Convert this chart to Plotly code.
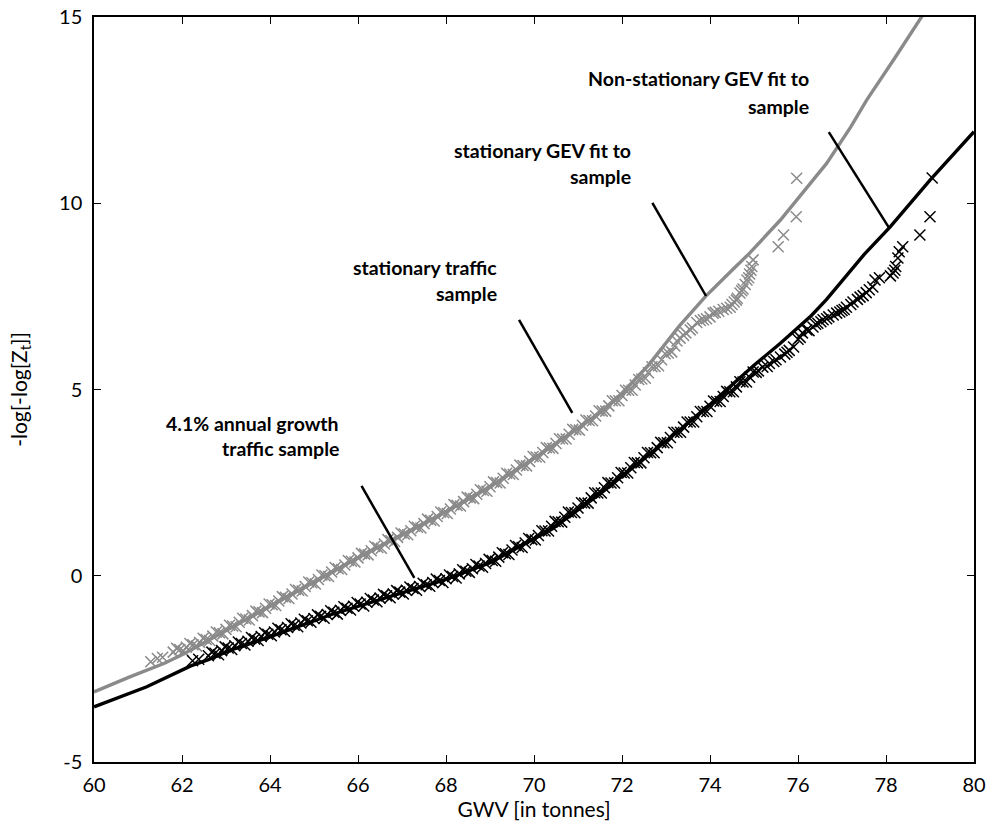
import plotly.graph_objects as go

# ---- stationary GEV fit (grey line) ----
gev_stat_x = [60.0, 60.8, 61.6, 62.0, 62.5, 63.1, 64.0, 64.6, 65.4, 66.1, 67.0, 68.0, 69.0, 70.0,
              71.0, 71.5, 72.0, 72.6, 73.3, 73.9, 74.5, 74.9, 75.6, 76.0, 76.65, 77.2, 77.56,
              78.2, 78.77, 79.0]
gev_stat_y = [-3.12, -2.72, -2.35, -2.12, -1.80, -1.40, -0.82, -0.43, 0.10, 0.55, 1.10, 1.72, 2.39, 3.15,
              3.96, 4.38, 4.90, 5.65, 6.70, 7.5, 8.2, 8.66, 9.55, 10.13, 11.07, 12.05, 12.77,
              13.9, 14.92, 15.35]

# ---- non-stationary GEV fit (black line) ----
gev_ns_x = [60.0, 61.2, 62.2, 62.6, 63.1, 63.9, 65.4, 66.9, 68.0, 69.0, 70.0, 70.4, 71.5, 72.5,
            73.3, 74.0, 74.5, 75.0, 75.6, 76.3, 76.65, 77.5, 78.1, 79.0, 80.0]
gev_ns_y = [-3.52, -2.98, -2.42, -2.25, -2.0, -1.68, -1.04, -0.50, -0.10, 0.35, 0.98, 1.25, 2.2, 3.15,
            3.9, 4.6, 5.12, 5.65, 6.24, 6.98, 7.42, 8.62, 9.37, 10.62, 11.92]

# ---- stationary traffic sample (grey crosses) ----
stat_x = [61.29, 61.44, 61.56,
          61.80, 61.95, 62.10, 62.25, 62.40, 62.55, 62.70, 62.85, 63.00, 63.15, 63.30, 63.45,
          63.60, 63.75, 63.90, 64.05, 64.20, 64.35, 64.50, 64.65, 64.80, 64.95, 65.10, 65.25,
          65.40, 65.55, 65.70, 65.85, 66.00, 66.15, 66.30, 66.45, 66.60, 66.75, 66.90, 67.05,
          67.20, 67.35, 67.50, 67.65, 67.80, 67.95, 68.10, 68.25, 68.40, 68.55, 68.70, 68.85,
          69.00, 69.15, 69.30, 69.45, 69.60, 69.75, 69.90, 70.05, 70.20, 70.35, 70.50, 70.65,
          70.80, 70.95, 71.10, 71.25, 71.40, 71.55, 71.70, 71.85, 72.00, 72.15, 72.30, 72.45,
          72.60, 72.75, 72.90, 73.05, 73.20,
          73.32, 73.45, 73.60, 73.70, 73.85, 74.00, 74.07, 74.20, 74.30, 74.46, 74.55, 74.62,
          74.68, 74.75, 74.84, 74.90, 74.95, 74.98, 75.55, 75.67, 75.96, 75.97]
stat_y = [-2.31, -2.22, -2.19,
          -2.05, -1.98, -1.92, -1.85, -1.79, -1.71, -1.62, -1.53, -1.44, -1.35, -1.25, -1.16,
          -1.07, -0.97, -0.87, -0.78, -0.68, -0.58, -0.49, -0.39, -0.29, -0.19, -0.10, 0.00,
          0.10, 0.19, 0.29, 0.39, 0.48, 0.58, 0.67, 0.76, 0.85, 0.94, 1.03, 1.12,
          1.21, 1.30, 1.40, 1.49, 1.59, 1.69, 1.79, 1.89, 1.99, 2.09, 2.19, 2.29,
          2.39, 2.50, 2.62, 2.73, 2.84, 2.96, 3.07, 3.19, 3.31, 3.43, 3.55, 3.67,
          3.80, 3.92, 4.04, 4.17, 4.29, 4.42, 4.56, 4.70, 4.84, 4.98, 5.12, 5.28,
          5.45, 5.62, 5.80, 5.98, 6.17,
          6.38, 6.52, 6.65, 6.80, 6.87, 6.95, 7.05, 7.10, 7.15, 7.21, 7.35, 7.45,
          7.59, 7.70, 7.94, 8.10, 8.30, 8.48, 8.83, 9.15, 9.64, 10.67]
# further stationary-sample points read between the ones above (dense band)
stat_x2 = [61.88, 62.03, 62.18, 62.33, 62.48, 62.63, 62.78, 62.93, 63.08, 63.23, 63.38, 63.53,
           63.68, 63.83, 63.98, 64.13, 64.28, 64.43, 64.58, 64.73, 64.88, 65.03, 65.18, 65.33,
           65.48, 65.63, 65.78, 65.93, 66.08, 66.23, 66.38, 66.53, 66.68, 66.83, 66.98, 67.13,
           67.28, 67.43, 67.58, 67.73, 67.88, 68.03, 68.18, 68.33, 68.48, 68.63, 68.78, 68.93,
           69.08, 69.23, 69.38, 69.53, 69.68, 69.83, 69.98, 70.13, 70.28, 70.43, 70.58, 70.73,
           70.88, 71.03, 71.18, 71.33, 71.48, 71.63, 71.78, 71.93, 72.08, 72.23, 72.38, 72.53,
           72.68, 72.83, 72.98, 73.13,
           73.25, 73.40, 73.55, 73.78, 73.92, 74.12, 74.38, 74.50, 74.60, 74.72, 74.80, 74.88, 74.93]
stat_y2 = [-1.95, -2.02, -1.82, -1.89, -1.68, -1.74, -1.51, -1.56, -1.33, -1.37, -1.14, -1.19,
           -0.95, -0.99, -0.76, -0.80, -0.56, -0.61, -0.37, -0.41, -0.17, -0.22, 0.02, -0.02,
           0.22, 0.17, 0.41, 0.37, 0.60, 0.56, 0.79, 0.74, 0.97, 0.92, 1.15, 1.10,
           1.33, 1.28, 1.52, 1.47, 1.71, 1.67, 1.91, 1.87, 2.11, 2.07, 2.31, 2.27,
           2.52, 2.49, 2.75, 2.72, 2.97, 2.95, 3.20, 3.18, 3.44, 3.42, 3.68, 3.67,
           3.93, 3.91, 4.18, 4.16, 4.43, 4.42, 4.70, 4.70, 4.98, 4.98, 5.27, 5.30,
           5.61, 5.64, 5.96, 6.01,
           6.30, 6.45, 6.60, 6.85, 6.90, 7.07, 7.18, 7.28, 7.40, 7.65, 7.82, 8.00, 8.20]

# ---- 4.1% annual growth traffic sample (black crosses) ----
grow_x = [62.24, 62.38,
          62.60, 62.75, 62.90, 63.05, 63.20, 63.35, 63.50, 63.65, 63.80, 63.95, 64.10, 64.25,
          64.40, 64.55, 64.70, 64.85, 65.00, 65.15, 65.30, 65.45, 65.60, 65.75, 65.90, 66.05,
          66.20, 66.35, 66.50, 66.65, 66.80, 66.95, 67.10, 67.25, 67.40, 67.55, 67.70, 67.85,
          68.00, 68.15, 68.30, 68.45, 68.60, 68.75, 68.90, 69.05, 69.20, 69.35, 69.50, 69.65,
          69.80, 69.95, 70.10, 70.25, 70.40, 70.55, 70.70, 70.85, 71.00, 71.15, 71.30, 71.45,
          71.60, 71.75, 71.90, 72.05, 72.20, 72.35, 72.50, 72.65, 72.80, 72.95, 73.10, 73.25,
          73.40, 73.55, 73.70, 73.85, 74.00, 74.15, 74.30, 74.45, 74.60, 74.75, 74.90, 75.05,
          75.20, 75.35, 75.50, 75.60, 75.75, 75.90, 76.00, 76.10, 76.20, 76.34, 76.45, 76.57,
          76.70, 76.88, 77.00, 77.10, 77.25, 77.41, 77.55, 77.70, 77.75, 77.85, 78.16, 78.22,
          78.27, 78.38, 78.77, 79.00, 79.05]
grow_y = [-2.28, -2.24,
          -2.15, -2.08, -2.01, -1.94, -1.88, -1.82, -1.76, -1.70, -1.63, -1.57, -1.51, -1.45,
          -1.39, -1.33, -1.27, -1.21, -1.15, -1.09, -1.04, -0.98, -0.93, -0.87, -0.82, -0.76,
          -0.71, -0.65, -0.60, -0.54, -0.49, -0.44, -0.39, -0.34, -0.29, -0.24, -0.18, -0.13,
          -0.08, -0.02, 0.05, 0.12, 0.19, 0.26, 0.33, 0.41, 0.50, 0.59, 0.69, 0.78,
          0.88, 0.97, 1.08, 1.20, 1.33, 1.45, 1.57, 1.70, 1.82, 1.95, 2.09, 2.22,
          2.36, 2.49, 2.63, 2.76, 2.90, 3.03, 3.17, 3.30, 3.44, 3.57, 3.71, 3.85,
          3.99, 4.13, 4.27, 4.41, 4.55, 4.68, 4.81, 4.94, 5.07, 5.20, 5.33, 5.46,
          5.60, 5.70, 5.80, 5.87, 6.00, 6.14, 6.35, 6.52, 6.60, 6.68, 6.78, 6.87,
          6.95, 7.05, 7.12, 7.21, 7.35, 7.48, 7.60, 7.75, 7.94, 8.00, 8.13, 8.30,
          8.53, 8.83, 9.15, 9.64, 10.68]
# further growth-sample points read between the ones above (dense band)
grow_x2 = [62.68, 62.83, 62.98, 63.13, 63.28, 63.43, 63.58, 63.73, 63.88, 64.03, 64.18, 64.33,
           64.48, 64.63, 64.78, 64.93, 65.08, 65.23, 65.38, 65.53, 65.68, 65.83, 65.98, 66.13,
           66.28, 66.43, 66.58, 66.73, 66.88, 67.03, 67.18, 67.33, 67.48, 67.63, 67.78, 67.93,
           68.08, 68.23, 68.38, 68.53, 68.68, 68.83, 68.98, 69.13, 69.28, 69.43, 69.58, 69.73,
           69.88, 70.03, 70.18, 70.33, 70.48, 70.63, 70.78, 70.93, 71.08, 71.23, 71.38, 71.53,
           71.68, 71.83, 71.98, 72.13, 72.28, 72.43, 72.58, 72.73, 72.88, 73.03, 73.18, 73.33,
           73.48, 73.63, 73.78, 73.93, 74.08, 74.23, 74.38, 74.53, 74.68, 74.83, 74.98,
           75.10, 75.30, 75.45, 75.70, 75.80, 76.05, 76.25, 76.40, 76.52, 76.65, 76.80, 76.95,
           77.05, 77.20, 77.35, 77.48, 77.62, 78.10, 78.20, 78.30]
grow_y2 = [-2.05, -2.12, -1.91, -1.98, -1.78, -1.86, -1.66, -1.74, -1.53, -1.61, -1.41, -1.49,
           -1.29, -1.37, -1.17, -1.25, -1.05, -1.14, -0.94, -1.03, -0.83, -0.92, -0.72, -0.81,
           -0.61, -0.70, -0.50, -0.59, -0.40, -0.49, -0.30, -0.39, -0.20, -0.28, -0.09, -0.18,
           0.02, -0.06, 0.16, 0.09, 0.30, 0.23, 0.44, 0.39, 0.62, 0.57, 0.81, 0.76,
           1.00, 0.96, 1.21, 1.20, 1.46, 1.44, 1.71, 1.69, 1.96, 1.95, 2.23, 2.22,
           2.50, 2.49, 2.77, 2.76, 3.04, 3.03, 3.31, 3.30, 3.58, 3.57, 3.85, 3.85,
           4.13, 4.13, 4.41, 4.41, 4.69, 4.68, 4.95, 4.94, 5.21, 5.20, 5.47,
           5.50, 5.62, 5.75, 5.95, 6.05, 6.40, 6.58, 6.75, 6.82, 6.90, 7.00, 7.08,
           7.15, 7.28, 7.42, 7.52, 7.68, 8.05, 8.20, 8.70]

x_ticks = [60, 62, 64, 66, 68, 70, 72, 74, 76, 78, 80]
y_ticks = [-5, 0, 5, 10, 15]
y_tick_text = ["-5", "0", "5", "10", "15"]

# label texts: (lines, right x, line y values, leader from, leader to)
labels = [
    (["Non-stationary GEV fit to", "sample"], 76.30, [13.31, 12.58], (76.70, 11.91), (78.07, 9.34)),
    (["stationary GEV fit to", "sample"], 72.25, [11.38, 10.68], (72.69, 10.01), (73.91, 7.51)),
    (["stationary traffic", "sample"], 69.21, [8.26, 7.56], (69.66, 6.87), (70.87, 4.37)),
    (["4.1% annual growth", "traffic sample"], 65.62, [4.07, 3.38], (66.08, 2.41), (67.28, -0.06)),
]

GREY = "#8a8a8a"
FONT = "Lato, Carlito, 'Open Sans', sans-serif"

fig = go.Figure()
fig.add_trace(go.Scatter(x=gev_stat_x, y=gev_stat_y, mode="lines",
                         line=dict(color=GREY, width=3.4), showlegend=False))
fig.add_trace(go.Scatter(x=gev_ns_x, y=gev_ns_y, mode="lines",
                         line=dict(color="#000000", width=3.4), showlegend=False))
fig.add_trace(go.Scatter(x=stat_x + stat_x2, y=stat_y + stat_y2, mode="markers",
                         marker=dict(symbol="x-thin", size=11, line=dict(color=GREY, width=1.5)),
                         showlegend=False))
fig.add_trace(go.Scatter(x=grow_x + grow_x2, y=grow_y + grow_y2, mode="markers",
                         marker=dict(symbol="x-thin", size=11, line=dict(color="#000000", width=1.5)),
                         showlegend=False))

for lines, xr, ys, p0, p1 in labels:
    for txt, yy in zip(lines, ys):
        fig.add_annotation(x=xr, y=yy, text="<b>" + txt + "</b>", showarrow=False,
                           xanchor="right", yanchor="middle", yshift=1,
                           font=dict(family=FONT, size=19.5, color="#000000"))
    fig.add_shape(type="line", x0=p0[0], y0=p0[1], x1=p1[0], y1=p1[1],
                  line=dict(color="#000000", width=2.5))

fig.update_layout(
    width=988, height=827,
    margin=dict(l=94, r=14, t=17, b=65, autoexpand=False),
    paper_bgcolor="white", plot_bgcolor="white",
    font=dict(family=FONT, color="#000000"),
)
fig.update_xaxes(range=[60, 80], tickvals=x_ticks, ticks="inside", ticklen=7, tickwidth=1,
                 tickcolor="#000000", showline=True, linecolor="#000000", linewidth=1.5,
                 mirror="ticks", showgrid=False, zeroline=False, automargin=False,
                 ticklabelstandoff=4,
                 tickfont=dict(size=20, family=FONT),
                 title=dict(text="GWV [in tonnes]", font=dict(size=21, family=FONT), standoff=2))
fig.update_yaxes(range=[-5, 15], tickvals=y_ticks, ticktext=y_tick_text, ticks="inside",
                 ticklen=7, tickwidth=1, tickcolor="#000000", showline=True, linecolor="#000000",
                 linewidth=1.5, mirror="ticks", showgrid=False, zeroline=False, automargin=False,
                 ticklabelstandoff=6,
                 tickfont=dict(size=20, family=FONT),
                 title=dict(text="-log[-log[Z<sub>t</sub>]]", font=dict(size=21, family=FONT),
                            standoff=26))

fig.write_html("out.html")
